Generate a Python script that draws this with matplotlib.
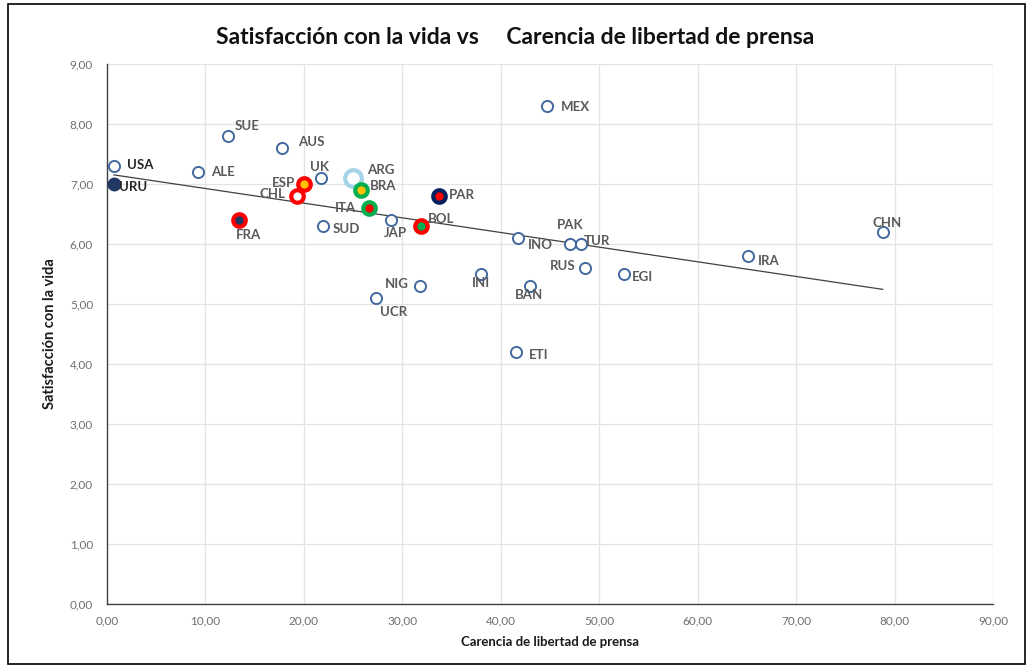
import numpy as np
import matplotlib
matplotlib.use("Agg")
import matplotlib.pyplot as plt
from matplotlib.patches import Rectangle
from matplotlib.ticker import FuncFormatter

plt.rcParams['font.family'] = ['Lato', 'DejaVu Sans']

countries = ["USA", "URU", "ALE", "SUE", "AUS", "UK", "ESP", "CHL", "FRA", "SUD",
             "ARG", "BRA", "ITA", "JAP", "BOL", "PAR", "NIG", "UCR", "MEX", "INO",
             "PAK", "TUR", "RUS", "INI", "BAN", "ETI", "EGI", "IRA", "CHN"]
press = [0.7, 0.7, 9.2, 12.3, 17.8, 21.7, 20.0, 19.3, 13.4, 21.9,
         25.0, 25.8, 26.6, 28.8, 31.9, 33.7, 31.8, 27.3, 44.7, 41.8,
         47.0, 48.1, 48.6, 38.0, 43.0, 41.5, 52.5, 65.1, 78.8]
life = [7.3, 7.0, 7.2, 7.8, 7.6, 7.1, 7.0, 6.8, 6.4, 6.3,
        7.1, 6.9, 6.6, 6.4, 6.3, 6.8, 5.3, 5.1, 8.3, 6.1,
        6.0, 6.0, 5.6, 5.5, 5.3, 4.2, 5.5, 5.8, 6.2]

x_ticks = [0, 10, 20, 30, 40, 50, 60, 70, 80, 90]
y_ticks = [0, 1, 2, 3, 4, 5, 6, 7, 8, 9]

# marker styles (face, edge, size, edge width)
BLUE = "#41699F"
default_style = ("white", BLUE, 8, 1.4)
special = {
    "URU": ("#1F3864", "#1F3864", 8, 2.0),
    "FRA": ("#1F3864", "#FF0000", 9, 3.0),
    "ESP": ("#FFC000", "#FF0000", 9, 3.0),
    "CHL": ("white", "#FF0000", 9, 3.0),
    "ARG": ("white", "#A5D4E6", 12, 3.0),
    "BRA": ("#FFC000", "#00B050", 9, 3.0),
    "ITA": ("#FF0000", "#00B050", 9, 3.0),
    "BOL": ("#00B050", "#FF0000", 9, 3.0),
    "PAR": ("#FF0000", "#002060", 9, 3.0),
}

# label offsets in pixels (dx, dy, ha)
offsets = {
    "USA": (13, 1, "left"), "URU": (5, -3, "left"), "ALE": (14, 0, "left"),
    "SUE": (7, 10, "left"), "AUS": (16, 6, "left"), "UK": (-1, 11, "center"),
    "ESP": (-9, 1, "right"), "CHL": (-12, 2, "right"), "FRA": (-3, -15, "left"),
    "SUD": (10, -3, "left"), "ARG": (14, 8, "left"), "BRA": (9, 4, "left"),
    "ITA": (-13, 0, "right"), "JAP": (5, -13, "center"), "BOL": (7, 7, "left"),
    "PAR": (10, 1, "left"), "NIG": (-11, 2, "right"), "UCR": (4, -14, "left"),
    "MEX": (14, -1, "left"), "INO": (9, -7, "left"), "PAK": (0, 19, "center"),
    "TUR": (3, 3, "left"), "RUS": (-10, 2, "right"), "INI": (0, -9, "center"),
    "BAN": (-1, -9, "center"), "ETI": (13, -3, "left"), "EGI": (8, -3, "left"),
    "IRA": (10, -5, "left"), "CHN": (4, 9, "center"),
}

fig = plt.figure(figsize=(10.34, 6.68), dpi=100)
ax = fig.add_axes([107 / 1034, 1 - 604 / 668, (993 - 107) / 1034, (604 - 64) / 668])

ax.set_xlim(0, 90)
ax.set_ylim(0, 9)
ax.set_xticks(x_ticks)
ax.set_yticks(y_ticks)
fmt = FuncFormatter(lambda v, p: f"{v:.2f}".replace(".", ","))
ax.xaxis.set_major_formatter(fmt)
ax.yaxis.set_major_formatter(fmt)
ax.tick_params(axis="both", length=0, labelsize=8.5, labelcolor="#6E6E6E")
ax.tick_params(axis="x", pad=8)
ax.tick_params(axis="y", pad=10)
ax.grid(True, color="#E3E3E3", linewidth=0.9)
ax.set_axisbelow(True)
for s in ["top", "right"]:
    ax.spines[s].set_visible(False)
for s in ["left", "bottom"]:
    ax.spines[s].set_color("#404040")
    ax.spines[s].set_linewidth(1.0)

# trendline
coef = np.polyfit(press, life, 1)
xs = np.array([min(press), max(press)])
ax.plot(xs, np.polyval(coef, xs), color="#404040", linewidth=0.9, zorder=2)

for c, xv, yv in zip(countries, press, life):
    fc, ec, ms, mew = special.get(c, default_style)
    ax.plot([xv], [yv], marker="o", linestyle="none", markersize=ms,
            markerfacecolor=fc, markeredgecolor=ec, markeredgewidth=mew, zorder=3)
    dx, dy, ha = offsets[c]
    col = "#262626" if c in ("USA", "URU") else "#595959"
    ax.annotate(c, (xv, yv), xytext=(dx * 0.72, dy * 0.72), textcoords="offset points",
                ha=ha, va="center", fontsize=9.5, fontweight="bold", color=col, zorder=4)

ax.set_xlabel("Carencia de libertad de prensa", fontsize=9.5, fontweight="bold",
              color="#1a1a1a", labelpad=7)
ax.set_ylabel("Satisfacción con la vida", fontsize=10.5, fontweight="bold",
              color="#1a1a1a", labelpad=9)

fig.text(515 / 1034, 1 - 37 / 668, "Satisfacción con la vida vs     Carencia de libertad de prensa",
         ha="center", va="center", fontsize=16.5, fontweight="bold", color="#111111")

fig.patches.append(Rectangle((8 / 1034, 4 / 668), (1025 - 8) / 1034, (664 - 4) / 668,
                             transform=fig.transFigure, fill=False, edgecolor="black",
                             linewidth=1.2))

fig.savefig("out.png", dpi=100)
